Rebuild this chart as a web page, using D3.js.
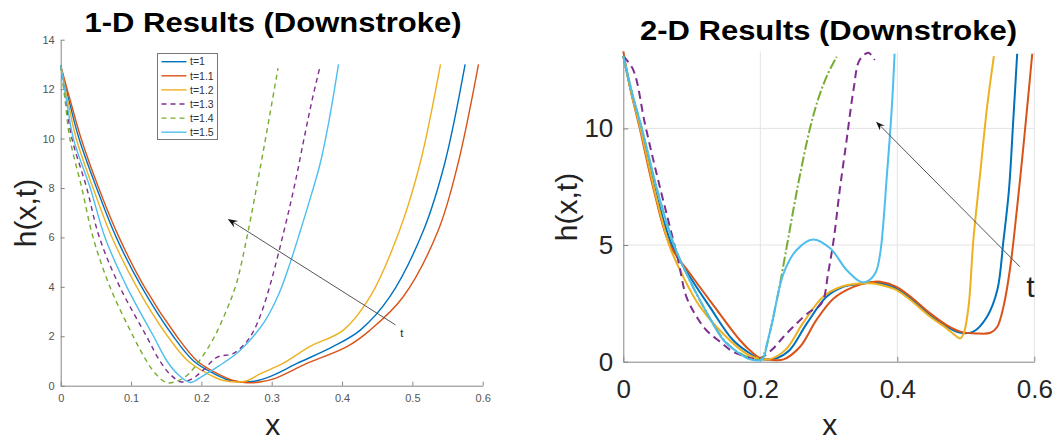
<!doctype html>
<html>
<head>
<meta charset="utf-8"/>
<script src="https://cdn.jsdelivr.net/npm/d3@7"></script>
<style>
body{margin:0;background:#fff;}
text{font-family:Arial,"Liberation Sans",Helvetica,sans-serif;}
</style>
</head>
<body>
<script>
// series labels + colours (matlab default order)
var labels = ["t=1","t=1.1","t=1.2","t=1.3","t=1.4","t=1.5"];
var colors = ["#0072BD","#D95319","#EDB120","#7E2F8E","#77AC30","#4DBEEE"];

// ---- 1-D results ----
var d1_x_t1  = [0,0.013,0.026,0.051,0.079,0.115,0.16,0.189,0.217,0.24,0.258,0.275,0.30,0.336,0.387,0.426,0.468,0.516,0.546,0.575];
var d1_h_t1  = [12.95,11.4,10.0,8.0,6.0,4.0,2.0,1.0,0.5,0.22,0.15,0.18,0.4,0.9,1.58,2.25,3.6,6.3,9.0,13.0];
var d1_x_t11 = [0,0.015,0.029,0.054,0.083,0.119,0.165,0.194,0.222,0.247,0.265,0.283,0.305,0.35,0.407,0.44,0.487,0.537,0.565,0.594];
var d1_h_t11 = [12.95,11.4,10.0,8.0,6.0,4.0,2.0,1.0,0.5,0.2,0.12,0.15,0.3,0.9,1.58,2.25,3.6,6.3,9.0,13.0];
var d1_x_t12 = [0,0.011,0.022,0.046,0.073,0.108,0.152,0.181,0.208,0.23,0.25,0.265,0.285,0.316,0.354,0.402,0.44,0.482,0.511,0.54];
var d1_h_t12 = [12.95,11.4,10.0,8.0,6.0,4.0,2.0,1.0,0.5,0.22,0.15,0.2,0.5,0.9,1.58,2.25,3.6,6.3,9.0,13.0];
var d1_x_t13 = [0,0.007,0.016,0.037,0.055,0.084,0.122,0.141,0.156,0.172,0.188,0.203,0.222,0.245,0.262,0.274,0.286,0.298,0.31,0.322,0.334,0.346,0.357,0.369];
var d1_h_t13 = [12.95,11.6,10.0,8.0,6.0,4.0,2.0,1.0,0.45,0.15,0.3,0.64,1.15,1.3,1.7,2.2,3.0,4.1,5.4,6.8,8.3,10.0,11.5,12.95];
var d1_x_t14 = [0,0.006,0.013,0.030,0.046,0.070,0.103,0.122,0.136,0.151,0.165,0.179,0.198,0.217,0.236,0.25,0.264,0.277,0.29,0.309];
var d1_h_t14 = [12.95,11.6,10.0,8.0,6.0,4.0,2.0,1.0,0.45,0.12,0.18,0.4,1.04,1.9,3.07,4.15,5.9,7.8,9.8,12.85];
var d1_x_t15 = [0,0.008,0.018,0.042,0.063,0.094,0.132,0.151,0.167,0.184,0.2,0.225,0.25,0.274,0.29,0.31,0.326,0.34,0.355,0.369,0.382,0.395];
var d1_h_t15 = [12.95,11.6,10.0,8.0,6.0,4.0,2.0,1.0,0.45,0.13,0.36,0.8,1.3,2.0,2.6,3.7,4.95,6.2,7.6,9.0,10.8,13.0];

// ---- 2-D results, right panel ----
var d2_x_t1  = [0,0.012,0.026,0.047,0.071,0.094,0.126,0.16,0.185,0.2,0.212,0.224,0.243,0.268,0.297,0.321,0.35,0.36,0.375,0.399,0.423,0.448,0.472,0.492,0.511,0.531,0.546,0.555,0.563,0.569,0.575];
var d2_h_t1  = [13.1,11.5,10.0,7.3,5.0,3.79,2.36,0.93,0.35,0.12,0.1,0.15,0.5,1.64,2.79,3.21,3.36,3.4,3.36,3.14,2.64,2.0,1.5,1.24,1.29,1.93,3.07,5.2,7.36,10.2,13.2];
var d2_x_t11 = [0,0.011,0.024,0.045,0.068,0.097,0.133,0.17,0.19,0.2,0.215,0.234,0.258,0.282,0.307,0.336,0.36,0.375,0.399,0.423,0.448,0.472,0.492,0.516,0.536,0.546,0.555,0.565,0.575,0.585,0.592,0.597];
var d2_h_t11 = [13.3,11.6,10.0,7.3,5.0,3.79,2.36,0.93,0.35,0.15,0.08,0.1,0.64,1.79,2.71,3.21,3.4,3.43,3.21,2.7,2.07,1.57,1.29,1.21,1.24,1.5,2.36,4.07,6.64,9.5,11.64,13.2];
var d2_x_t12 = [0,0.012,0.025,0.046,0.067,0.085,0.112,0.155,0.182,0.2,0.215,0.238,0.262,0.292,0.318,0.355,0.375,0.399,0.423,0.448,0.472,0.487,0.492,0.497,0.504,0.511,0.521,0.531,0.541];
var d2_h_t12 = [13.1,11.5,10.0,7.3,5.0,3.79,2.36,0.93,0.3,0.12,0.12,0.55,1.64,2.79,3.21,3.36,3.3,3.07,2.55,1.93,1.43,1.07,1.0,1.21,2.36,5.2,8.07,10.9,13.1];
var d2_x_t13 = [0,0.0146,0.0316,0.0485,0.0655,0.080,0.092,0.107,0.121,0.141,0.16,0.18,0.197,0.2165,0.234,0.253,0.272,0.285,0.292,0.299,0.307,0.316,0.326,0.336,0.345,0.358,0.367];
var d2_h_t13 = [13.1,12.5,10.2,8.07,6.07,4.36,2.79,1.93,1.36,0.86,0.43,0.21,0.12,0.5,1.07,1.64,2.14,2.36,2.64,3.79,5.2,7.36,9.5,11.64,12.93,13.24,12.93];
var d2_x_t14 = [0,0.013,0.027,0.05,0.074,0.092,0.117,0.147,0.168,0.19,0.2,0.205,0.2238,0.2384,0.2482,0.2579,0.2725,0.285,0.298,0.3115];
var d2_h_t14 = [13.1,11.5,10.0,7.3,5.0,3.79,2.36,0.93,0.4,0.1,0.1,0.3,2.6,4.9,6.5,8.0,10.0,11.3,12.3,13.07];
var d2_x_t15 = [0,0.013,0.027,0.05,0.074,0.092,0.117,0.146,0.165,0.185,0.203,0.21,0.217,0.234,0.253,0.277,0.302,0.326,0.346,0.355,0.368,0.375,0.385,0.392,0.396];
var d2_h_t15 = [13.1,11.5,10.0,7.3,5.0,3.79,2.36,0.93,0.45,0.1,0.1,0.8,1.64,3.79,4.79,5.24,4.86,3.93,3.43,3.43,3.8,4.64,8.07,10.9,13.2];

// axis ticks
var d1_xticks = [0,0.1,0.2,0.3,0.4,0.5,0.6];
var d1_yticks = [0,2,4,6,8,10,12,14];
var d2_xticks = [0,0.2,0.4,0.6];
var d2_yticks = [0,5,10];

// arrow annotations [x0,h0,x1,h1] in data units, "t" label at [x,h]
var d1_arrow = [0.476,2.46,0.2375,6.75];
var d1_tlab  = [0.485,1.97];
var d2_arrow = [0.579,4.07,0.369,10.29];
var d2_tlab  = [0.5946,2.77];

function zip(xs,hs){ return xs.map(function(x,i){ return {x:x,h:hs[i]}; }); }

var svg = d3.select("body").append("svg").attr("width",1059).attr("height",442);

function panel(o){
  var x = d3.scaleLinear().domain([0,0.6]).range([o.x0,o.x1]);
  var y = d3.scaleLinear().domain([0,o.ymax]).range([o.y0,o.y1]);
  var g = svg.append("g");

  if(o.grid){
    g.append("g").selectAll("line").data(o.xticks.filter(function(d){return d>0;})).enter().append("line")
      .attr("x1",function(d){return x(d);}).attr("x2",function(d){return x(d);})
      .attr("y1",o.y0).attr("y2",o.y1).attr("stroke","#e3e3e3");
    g.append("g").selectAll("line").data(o.yticks.filter(function(d){return d>0;})).enter().append("line")
      .attr("y1",function(d){return y(d);}).attr("y2",function(d){return y(d);})
      .attr("x1",o.x0).attr("x2",o.x1).attr("stroke","#e3e3e3");
  }

  var xa = g.append("g").attr("transform","translate(0,"+o.y0+")")
    .call(d3.axisBottom(x).tickValues(o.xticks).tickFormat(d3.format("")).tickSizeInner(-o.tick).tickSizeOuter(0).tickPadding(o.xpad));
  var ya = g.append("g").attr("transform","translate("+o.x0+",0)")
    .call(d3.axisLeft(y).tickValues(o.yticks).tickFormat(d3.format("")).tickSizeInner(-o.tick).tickSizeOuter(0).tickPadding(o.ypad));
  [xa,ya].forEach(function(a){
    a.select(".domain").attr("stroke","#858585");
    a.selectAll(".tick line").attr("stroke","#858585");
    a.selectAll("text").attr("fill",o.tickColor).style("font-size",o.tickFont+"px").attr("font-family",null);
  });

  var line = d3.line().x(function(d){return x(d.x);}).y(function(d){return y(d.h);}).curve(d3.curveCatmullRom.alpha(0.5));
  o.series.forEach(function(s,i){
    g.append("path").datum(s).attr("d",line).attr("fill","none")
      .attr("stroke",colors[i]).attr("stroke-width",o.lw)
      .attr("stroke-dasharray",o.dash[i]||null);
  });

  // arrow
  var a = o.arrow, ax0=x(a[0]), ay0=y(a[1]), ax1=x(a[2]), ay1=y(a[3]);
  var ang = Math.atan2(ay1-ay0, ax1-ax0), L=o.head, W=o.head*0.75;
  g.append("line").attr("x1",ax0).attr("y1",ay0)
    .attr("x2",ax1-Math.cos(ang)*L*0.6).attr("y2",ay1-Math.sin(ang)*L*0.6)
    .attr("stroke","#555").attr("stroke-width",1);
  var c=Math.cos(ang), s=Math.sin(ang);
  var pts=[[ax1,ay1],
    [ax1-c*L-s*W/2, ay1-s*L+c*W/2],
    [ax1-c*L*0.65, ay1-s*L*0.65],
    [ax1-c*L+s*W/2, ay1-s*L-c*W/2]];
  g.append("path").attr("d","M"+pts.join("L")+"Z").attr("fill","#111");
  g.append("text").attr("x",x(o.tlab[0])).attr("y",y(o.tlab[1])).attr("text-anchor","middle")
    .style("font-size",o.tFont+"px").attr("fill","#222").text("t");

  // titles / labels
  svg.append("text").attr("x",o.tx).attr("y",o.ty).attr("text-anchor","middle")
    .style("font-size","27px").style("font-weight","bold").attr("fill","#000")
    .attr("textLength",377).attr("lengthAdjust","spacingAndGlyphs").text(o.title);
  svg.append("text").attr("x",(o.x0+o.x1)/2+o.xlabOff).attr("y",435).attr("text-anchor","middle")
    .style("font-size","30px").attr("fill","#222").text("x");
  svg.append("text").attr("transform","translate("+o.ylx+","+o.yly+") rotate(-90)").attr("text-anchor","middle")
    .style("font-size","30px").attr("fill","#222").text("h(x,t)");
  return g;
}

var p1 = panel({
  x0:60.7,x1:482.7,y0:385.7,y1:39.7,ymax:14,
  xticks:d1_xticks,yticks:d1_yticks,tick:4,xpad:9,ypad:6,tickColor:"#555",tickFont:11,
  series:[zip(d1_x_t1,d1_h_t1),zip(d1_x_t11,d1_h_t11),zip(d1_x_t12,d1_h_t12),zip(d1_x_t13,d1_h_t13),zip(d1_x_t14,d1_h_t14),zip(d1_x_t15,d1_h_t15)],
  lw:1.4,dash:[null,null,null,"5,4","5,4",null],
  arrow:d1_arrow,tlab:d1_tlab,head:10,tFont:11,
  title:"1-D Results (Downstroke)",tx:273,ty:32,xlabOff:1,ylx:36,yly:213,grid:false
});

// legend (left panel only)
var lg = p1.append("g").attr("transform","translate(157.5,53.5)");
lg.append("rect").attr("width",60).attr("height",86).attr("fill","#fff").attr("stroke","#777").attr("stroke-width",1);
labels.forEach(function(l,i){
  var yy = 8.2+i*14.1;
  lg.append("line").attr("x1",4).attr("x2",29).attr("y1",yy).attr("y2",yy)
    .attr("stroke",colors[i]).attr("stroke-width",1.4).attr("stroke-dasharray",(i==3||i==4)?"5,4":null);
  lg.append("text").attr("x",32.5).attr("y",yy).attr("dy","0.36em").style("font-size","10.5px").attr("fill","#333").text(l);
});

panel({
  x0:623.3,x1:1034.3,y0:361.7,y1:51.4,ymax:13.3,
  xticks:d2_xticks,yticks:d2_yticks,tick:5,xpad:18,ypad:10,tickColor:"#262626",tickFont:26,
  series:[zip(d2_x_t1,d2_h_t1),zip(d2_x_t11,d2_h_t11),zip(d2_x_t12,d2_h_t12),zip(d2_x_t13,d2_h_t13),zip(d2_x_t14,d2_h_t14),zip(d2_x_t15,d2_h_t15)],
  lw:2,dash:[null,null,null,"8,5","10,2.5,2,2.5",null],
  arrow:d2_arrow,tlab:d2_tlab,head:9,tFont:29,
  title:"2-D Results (Downstroke)",tx:828.5,ty:40,xlabOff:1,ylx:577,yly:207,grid:true
});
</script>
</body>
</html>
